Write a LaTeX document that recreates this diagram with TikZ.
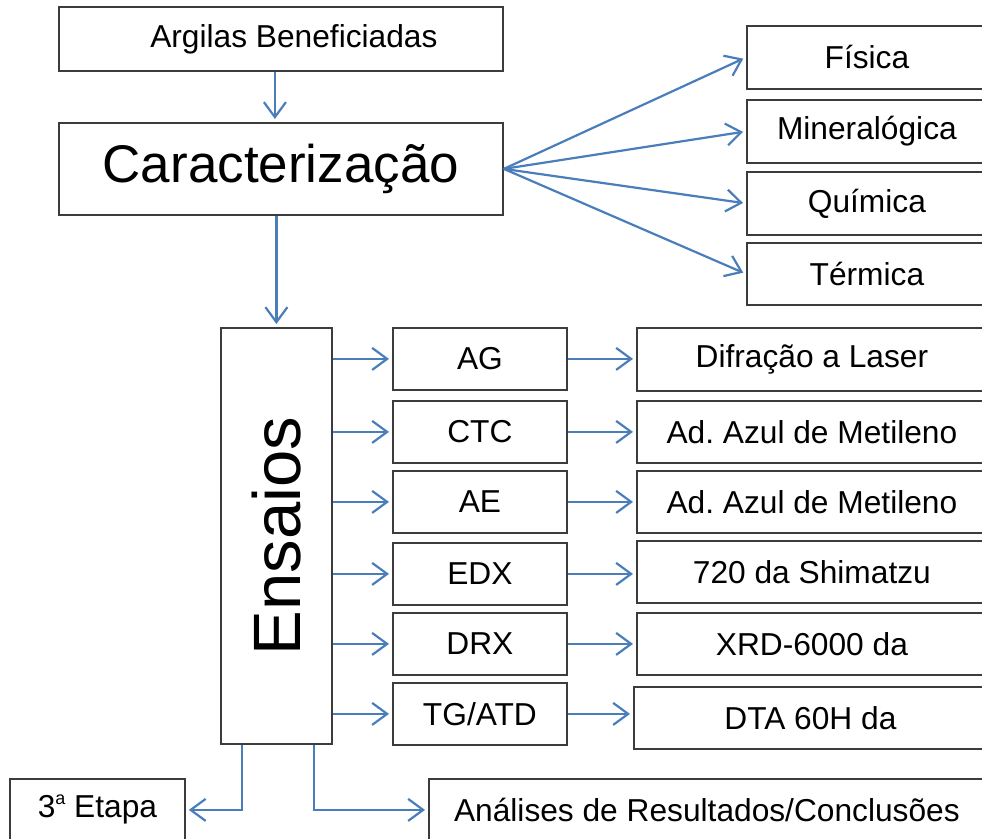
\documentclass[tikz,border=0pt]{standalone}
\usepackage{fontspec}
\setmainfont{Liberation Sans}
\usetikzlibrary{arrows.meta,calc}
\definecolor{arrowblue}{HTML}{4A7EBB}
\definecolor{boxgray}{HTML}{3C3C3C}
\frenchspacing
\begin{document}
\begin{tikzpicture}[x=1pt,y=-1pt,
  box/.style={draw=boxgray, line width=1.8pt, fill=white, inner sep=0pt, anchor=north west, font=\fontsize{31.7}{34}\selectfont},
  arr/.style={draw=arrowblue, line width=2.2pt, -{Straight Barb[length=15pt,width=22pt,line width=2.2pt]}, shorten >=3pt},
  big/.style={font=\fontsize{53}{56}\selectfont},
  huge/.style={font=\fontsize{67}{70}\selectfont}]
\useasboundingbox (0,0) rectangle (982,838);
\clip (0,0) rectangle (982,838);
% top chain
\node[box, minimum width=444pt, minimum height=64pt] (arg) at (58,6) {\hspace{26pt}Argilas Beneficiadas};
\node[box, big, minimum width=444pt, minimum height=92pt] (car) at (58,122) {Caracterização};
% characterization types
\node[box, minimum width=240pt, minimum height=63pt] (fis) at (746,25) {Física};
\node[box, minimum width=240pt, minimum height=63pt] (min) at (746,99) {Mineralógica};
\node[box, minimum width=240pt, minimum height=63pt] (qui) at (746,171) {Química};
\node[box, minimum width=240pt, minimum height=62pt] (ter) at (746,242) {Térmica};
% tests
\node[box, huge, minimum width=111pt, minimum height=416pt] (ens) at (220,327) {\rotatebox{90}{Ensaios}\hspace{8pt}};
\node[box, minimum width=174pt, minimum height=62pt] (ag) at (392,327) {AG};
\node[box, minimum width=174pt, minimum height=62pt] (ctc) at (392,400) {CTC};
\node[box, minimum width=174pt, minimum height=62pt] (ae) at (392,470) {AE};
\node[box, minimum width=174pt, minimum height=62pt] (edx) at (392,542) {EDX};
\node[box, minimum width=174pt, minimum height=62pt] (drx) at (392,612) {DRX};
\node[box, minimum width=174pt, minimum height=62pt] (tg) at (392,682) {TG/ATD};
% methods
\node[box, minimum width=350pt, minimum height=63pt] (dif) at (636,327) {Difração a Laser};
\node[box, minimum width=350pt, minimum height=62pt] (ad1) at (636,400) {Ad. Azul de Metileno};
\node[box, minimum width=350pt, minimum height=62pt] (ad2) at (636,470) {Ad. Azul de Metileno};
\node[box, minimum width=350pt, minimum height=62pt] (shi) at (636,540) {720 da Shimatzu};
\node[box, minimum width=350pt, minimum height=62pt] (xrd) at (636,612) {XRD-6000 da};
\node[box, minimum width=353pt, minimum height=62pt] (dta) at (633,686) {DTA 60H da};
% bottom
\node[box, minimum width=175pt, minimum height=62pt] (eta) at (9,778) {3\raisebox{13pt}{\fontsize{18}{18}\selectfont a} Etapa};
\node[box, minimum width=556pt, minimum height=62pt] (ana) at (428,778) {Análises de Resultados/Conclusões};
% connectors
\draw[arr] ([xshift=-6pt]arg.south) -- ([xshift=-6pt]car.north);
\draw[arr] (car.south -| ens.north) -- (ens.north);
\foreach \t in {fis,min,qui,ter} \draw[arr] (car.east) -- (\t.west);
\foreach \t in {ag,ctc,ae,edx,drx,tg} \draw[arr] (ens.east |- \t.west) -- (\t.west);
\draw[arr] (ag.east) -- (ag.east -| dif.west);
\draw[arr] (ctc.east) -- (ctc.east -| ad1.west);
\draw[arr] (ae.east) -- (ae.east -| ad2.west);
\draw[arr] (edx.east) -- (edx.east -| shi.west);
\draw[arr] (drx.east) -- (drx.east -| xrd.west);
\draw[arr] (tg.east) -- (tg.east -| dta.west);
\draw[arr] ([xshift=-34.5pt]ens.south) |- (eta.east);
\draw[arr] ([xshift=37.5pt]ens.south) |- (ana.west);
\end{tikzpicture}
\end{document}
